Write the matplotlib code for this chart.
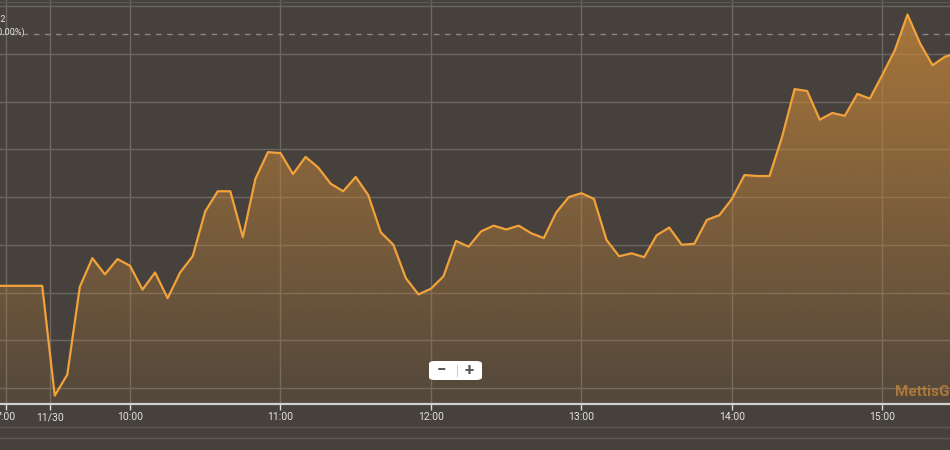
import numpy as np
import pandas as pd
import matplotlib
matplotlib.use('Agg')
import matplotlib.pyplot as plt
from matplotlib.patches import FancyBboxPatch, Polygon
from matplotlib.lines import Line2D

plt.rcParams['font.family'] = ['Roboto', 'DejaVu Sans']

# previous session tail (minutes relative to 10:00)
prev_min = [-60, -35]
prev_price = [101.07, 101.07]

# 5 minute closes from 09:30
times = pd.date_range('2018-11-30 09:30', periods=73, freq='5min')
prices = [99.92, 100.14, 101.06, 101.36, 101.19, 101.35, 101.28, 101.03, 101.21, 100.94,
          101.21, 101.38, 101.85, 102.06, 102.06, 101.58, 102.19, 102.47, 102.46, 102.24,
          102.42, 102.31, 102.14, 102.06, 102.21, 102.02, 101.63, 101.50, 101.15, 100.98,
          101.04, 101.17, 101.54, 101.48, 101.64, 101.70, 101.66, 101.70, 101.62, 101.57,
          101.84, 102.00, 102.04, 101.98, 101.55, 101.38, 101.41, 101.37, 101.60, 101.68,
          101.50, 101.51, 101.76, 101.81, 101.98, 102.23, 102.22, 102.22, 102.63, 103.13,
          103.11, 102.81, 102.88, 102.85, 103.08, 103.03, 103.28, 103.54, 103.91, 103.61,
          103.38, 103.47, 103.51]
ref_price = 103.71

tick_labels = ['7:00', '11/30', '10:00', '11:00', '12:00', '13:00', '14:00', '15:00']
tick_pos = [-49.5, -32, 0, 60, 120, 180, 240, 300]

mins = ((times - pd.Timestamp('2018-11-30 10:00')).total_seconds() / 60).tolist()
x = np.array(prev_min + mins)
y = np.array(prev_price + prices)

bg = '#46413c'
fig = plt.figure(figsize=(9.5, 4.5), dpi=100, facecolor=bg)
ax = fig.add_axes([0, 46 / 450, 1, 404 / 450])
ax.set_facecolor(bg)

ymin, ymax = 99.8325, 104.063
ax.set_xlim(-51.83, 326.95)
ax.set_ylim(ymin, ymax)

# gradient fill under the line
grad = np.linspace(0.10, 0.78, 256).reshape(-1, 1)
rgba = np.zeros((256, 1, 4))
rgba[..., 0] = 200 / 255
rgba[..., 1] = 135 / 255
rgba[..., 2] = 58 / 255
rgba[..., 3] = grad
img = ax.imshow(rgba, aspect='auto', origin='lower',
                extent=[x[0], x[-1], ymin, ymax], zorder=2)
poly = Polygon(np.column_stack([np.r_[x[0], x, x[-1]], np.r_[ymin, y, ymin]]),
               closed=True, facecolor='none', edgecolor='none')
ax.add_patch(poly)
img.set_clip_path(poly)

ax.plot(x, y, color='#f2a23a', lw=1.6, zorder=4)
ax.axhline(ref_price, color='#8a8680', lw=1, ls=(0, (4, 4)), zorder=3)

ax.set_yticks(np.arange(100, 104.1, 0.5))
ax.set_xticks(tick_pos)
ax.set_xticklabels(tick_labels)
ax.grid(True, color='#6a6661', lw=1, zorder=1)
ax.set_axisbelow(True)
ax.tick_params(axis='y', left=False, labelleft=False)
ax.tick_params(axis='x', colors='#d8d8d8', labelcolor='#e2e2e2', labelsize=7.5,
               length=4, width=1, pad=2)
for s in ['top', 'left', 'right']:
    ax.spines[s].set_visible(False)
ax.spines['bottom'].set_color('#d0d0d0')
ax.spines['bottom'].set_linewidth(1.6)

# previous close label, cut by left edge
fig.text(6 / 950, 1 - 19 / 450, '7.72', color='#e8e8e8', fontsize=6.5,
         ha='right', va='center')
fig.text(25 / 950, 1 - 32 / 450, '(0.00%)', color='#e8e8e8', fontsize=6.5,
         ha='right', va='center')

# navigator lines
for yy in [427, 438]:
    fig.add_artist(Line2D([0, 1], [1 - yy / 450] * 2, color='#5c5853', lw=1))
fig.add_artist(Line2D([0, 1], [1 - 2 / 450] * 2, color='#5a5651', lw=1))

# zoom buttons
fig.add_artist(FancyBboxPatch((429 / 950, 70 / 450), 53 / 950, 19 / 450,
                              boxstyle='round,pad=0,rounding_size=0.006',
                              facecolor='white', edgecolor='none'))
fig.add_artist(Line2D([457 / 950] * 2, [74 / 450, 85 / 450], color='#cccccc', lw=0.8))
fig.text(441 / 950, 80 / 450, '\u2212', color='#555555', fontsize=12,
         fontweight='bold', ha='center', va='center')
fig.text(469 / 950, 80 / 450, '+', color='#555555', fontsize=12,
         fontweight='bold', ha='center', va='center')

# watermark
fig.text(895 / 950, 58 / 450, 'MettisGlobal', color='#c8873a', alpha=0.75,
         fontsize=11, fontweight='bold', ha='left', va='center')

fig.savefig('out.png', dpi=100, facecolor=bg)
